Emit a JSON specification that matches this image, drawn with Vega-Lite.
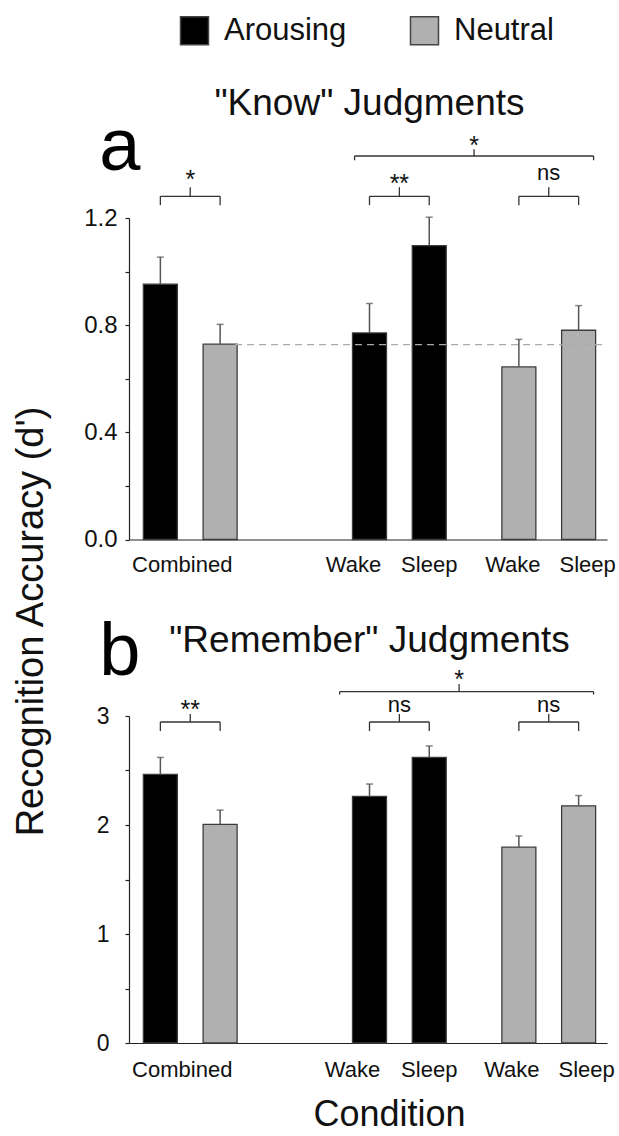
{
  "$schema": "https://vega.github.io/schema/vega-lite/v6.json",
  "padding": {"left": 12, "top": 15, "right": 0, "bottom": 0},
  "bounds": "flush",
  "spacing": 176,
  "background": "white",
  "datasets": {
    "bars": [
      {"panel": "a", "key": "Combined Arousing", "valence": "Arousing", "value": 0.953, "upper": 1.054},
      {"panel": "a", "key": "Combined Neutral", "valence": "Neutral", "value": 0.729, "upper": 0.803},
      {"panel": "a", "key": "Wake Arousing", "valence": "Arousing", "value": 0.771, "upper": 0.881},
      {"panel": "a", "key": "Sleep Arousing", "valence": "Arousing", "value": 1.097, "upper": 1.203},
      {"panel": "a", "key": "Wake Neutral", "valence": "Neutral", "value": 0.644, "upper": 0.747},
      {"panel": "a", "key": "Sleep Neutral", "valence": "Neutral", "value": 0.781, "upper": 0.873},
      {"panel": "b", "key": "Combined Arousing", "valence": "Arousing", "value": 2.464, "upper": 2.62},
      {"panel": "b", "key": "Combined Neutral", "valence": "Neutral", "value": 2.005, "upper": 2.137},
      {"panel": "b", "key": "Wake Arousing", "valence": "Arousing", "value": 2.262, "upper": 2.376},
      {"panel": "b", "key": "Sleep Arousing", "valence": "Arousing", "value": 2.62, "upper": 2.725},
      {"panel": "b", "key": "Wake Neutral", "valence": "Neutral", "value": 1.797, "upper": 1.9},
      {"panel": "b", "key": "Sleep Neutral", "valence": "Neutral", "value": 2.176, "upper": 2.27}
    ],
    "brackets": [
      {"panel": "a", "from": "Combined Arousing", "to": "Combined Neutral", "mid": "Combined", "level": 1.281, "drop": 1.248, "tip": 1.315, "label": "*", "labelY": 1.312},
      {"panel": "a", "from": "Wake Arousing", "to": "Sleep Arousing", "mid": "_16", "level": 1.281, "drop": 1.248, "tip": 1.315, "label": "**", "labelY": 1.296},
      {"panel": "a", "from": "Wake Neutral", "to": "Sleep Neutral", "mid": "_26", "level": 1.281, "drop": 1.248, "tip": 1.315, "label": "ns", "labelY": 1.341},
      {"panel": "a", "from": "_13", "to": "_29", "mid": "_21", "level": 1.4315, "drop": 1.4155, "tip": 1.4565, "label": "*", "labelY": 1.439},
      {"panel": "b", "from": "Combined Arousing", "to": "Combined Neutral", "mid": "Combined", "level": 2.945, "drop": 2.862, "tip": 3.018, "label": "**", "labelY": 2.985},
      {"panel": "b", "from": "Wake Arousing", "to": "Sleep Arousing", "mid": "_16", "level": 2.945, "drop": 2.862, "tip": 3.018, "label": "ns", "labelY": 3.04},
      {"panel": "b", "from": "Wake Neutral", "to": "Sleep Neutral", "mid": "_26", "level": 2.945, "drop": 2.862, "tip": 3.018, "label": "ns", "labelY": 3.04},
      {"panel": "b", "from": "_12", "to": "_29", "mid": "_20", "level": 3.223, "drop": 3.197, "tip": 3.294, "label": "*", "labelY": 3.26}
    ],
    "notes": [
      {"panel": "a", "kind": "letter", "key": "Combined Arousing", "y": 1.378, "text": "a"},
      {"panel": "a", "kind": "title", "key": "Wake Arousing", "y": 1.583, "text": "\"Know\" Judgments"},
      {"panel": "a", "kind": "ref", "key": "_5", "y": 0.7275, "text": ""},
      {"panel": "b", "kind": "letter", "key": "Combined Arousing", "y": 3.376, "text": "b"},
      {"panel": "b", "kind": "title", "key": "Wake Arousing", "y": 3.59, "text": "\"Remember\" Judgments"}
    ]
  },
  "resolve": {"legend": {"color": "independent"}},
  "vconcat": [
    {
      "width": 478,
      "height": 321.5,
      "layer": [
        {
          "data": {"name": "bars"},
          "transform": [{"filter": "datum.panel == 'a'"}],
          "mark": {"type": "bar", "width": 34, "stroke": "#3c3c3c", "strokeWidth": 1.3},
          "encoding": {
            "x": {
              "field": "key", "type": "nominal",
              "scale": {
                "domain": ["Combined Arousing", "_1", "Combined", "_3", "Combined Neutral", "_5", "_6", "_7", "_8", "_9", "_10", "_11", "_12", "_13", "Wake Arousing", "_15", "_16", "_17", "Sleep Arousing", "_19", "_20", "_21", "_22", "_23", "Wake Neutral", "_25", "_26", "_27", "Sleep Neutral", "_29"],
                "paddingInner": 0, "paddingOuter": 1.056, "align": 0.8
              },
              "axis": {
                "title": null, "ticks": false, "labelAngle": 0, "labelFontSize": 22, "labelBaseline": "alphabetic", "labelPadding": 32,
                "labelExpr": "datum.label == 'Combined' ? 'Combined' : indexof(datum.label, 'Wake ') == 0 ? 'Wake' : indexof(datum.label, 'Sleep ') == 0 ? 'Sleep' : ''",
                "labelOffset": {"condition": [
                  {"test": "datum.label == 'Combined'", "value": -8},
                  {"test": "datum.label == 'Wake Arousing'", "value": -16},
                  {"test": "datum.label == 'Wake Neutral'", "value": -6},
                  {"test": "datum.label == 'Sleep Neutral'", "value": 9}
                ], "value": 0}
              }
            },
            "y": {
              "field": "value", "type": "quantitative",
              "scale": {"domain": [0, 1.2], "nice": false, "zero": true},
              "axis": {
                "values": [0, 0.2, 0.4, 0.6, 0.8, 1.0, 1.2], "format": ".1f",
                "labelExpr": "round(datum.value * 10) % 4 == 0 ? datum.label : ''",
                "tickSize": 4, "labelPadding": 8, "labelFontSize": 24,
                "title": "Recognition Accuracy (d')", "titleFontSize": 38, "titleFontWeight": "normal",
                "titleAngle": 270, "titleBaseline": "alphabetic", "titleAlign": "center", "titleX": -87, "titleY": 403
              }
            },
            "color": {
              "field": "valence", "type": "nominal",
              "scale": {"domain": ["Arousing", "Neutral"], "range": ["#000000", "#b0b0b0"]},
              "legend": {
                "title": null, "orient": "none", "legendX": 50, "legendY": -203, "direction": "horizontal",
                "symbolType": "square", "symbolSize": 784, "symbolStrokeColor": "#444", "symbolStrokeWidth": 1.5,
                "symbolOpacity": 1, "labelFontSize": 31, "labelOffset": 14, "columnPadding": 60, "padding": 0
              }
            }
          }
        },
        {
          "data": {"name": "bars"},
          "transform": [{"filter": "datum.panel == 'a'"}],
          "mark": {"type": "rule", "stroke": "#555", "strokeWidth": 1.5},
          "encoding": {
            "x": {"field": "key", "type": "nominal"},
            "y": {"field": "value", "type": "quantitative"},
            "y2": {"field": "upper"}
          }
        },
        {
          "data": {"name": "bars"},
          "transform": [{"filter": "datum.panel == 'a'"}],
          "mark": {"type": "tick", "size": 7, "thickness": 1.5, "color": "#555", "orient": "horizontal"},
          "encoding": {
            "x": {"field": "key", "type": "nominal"},
            "y": {"field": "upper", "type": "quantitative"}
          }
        },
        {
          "data": {"name": "notes"},
          "transform": [{"filter": "datum.panel == 'a' && datum.kind == 'ref'"}],
          "mark": {"type": "rule", "stroke": "#aaaaaa", "strokeWidth": 1.2, "strokeDash": [7, 5]},
          "encoding": {
            "x": {"field": "key", "type": "nominal"},
            "x2": {"value": "width"},
            "y": {"field": "y", "type": "quantitative"}
          }
        },
        {
          "data": {"name": "brackets"},
          "transform": [{"filter": "datum.panel == 'a'"}],
          "mark": {"type": "rule", "stroke": "#333", "strokeWidth": 1.3},
          "encoding": {
            "x": {"field": "from", "type": "nominal"},
            "x2": {"field": "to"},
            "y": {"field": "level", "type": "quantitative"}
          }
        },
        {
          "data": {"name": "brackets"},
          "transform": [{"filter": "datum.panel == 'a'"}],
          "mark": {"type": "rule", "stroke": "#333", "strokeWidth": 1.3},
          "encoding": {
            "x": {"field": "from", "type": "nominal"},
            "y": {"field": "level", "type": "quantitative"},
            "y2": {"field": "drop"}
          }
        },
        {
          "data": {"name": "brackets"},
          "transform": [{"filter": "datum.panel == 'a'"}],
          "mark": {"type": "rule", "stroke": "#333", "strokeWidth": 1.3},
          "encoding": {
            "x": {"field": "to", "type": "nominal"},
            "y": {"field": "level", "type": "quantitative"},
            "y2": {"field": "drop"}
          }
        },
        {
          "data": {"name": "brackets"},
          "transform": [{"filter": "datum.panel == 'a'"}],
          "mark": {"type": "rule", "stroke": "#333", "strokeWidth": 1.3},
          "encoding": {
            "x": {"field": "mid", "type": "nominal"},
            "y": {"field": "level", "type": "quantitative"},
            "y2": {"field": "tip"}
          }
        },
        {
          "data": {"name": "brackets"},
          "transform": [{"filter": "datum.panel == 'a'"}],
          "mark": {"type": "text", "baseline": "alphabetic", "align": "center", "color": "#111"},
          "encoding": {
            "x": {"field": "mid", "type": "nominal"},
            "y": {"field": "labelY", "type": "quantitative"},
            "text": {"field": "label"},
            "size": {"condition": {"test": "datum.label == 'ns'", "value": 22}, "value": 25}
          }
        },
        {
          "data": {"name": "notes"},
          "transform": [{"filter": "datum.panel == 'a' && datum.kind == 'title'"}],
          "mark": {"type": "text", "baseline": "alphabetic", "align": "center", "fontSize": 37, "color": "#111"},
          "encoding": {
            "x": {"field": "key", "type": "nominal"},
            "y": {"field": "y", "type": "quantitative"},
            "text": {"field": "text"}
          }
        },
        {
          "data": {"name": "notes"},
          "transform": [{"filter": "datum.panel == 'a' && datum.kind == 'letter'"}],
          "mark": {"type": "text", "baseline": "alphabetic", "align": "left", "fontSize": 74, "dx": -61, "color": "#000"},
          "encoding": {
            "x": {"field": "key", "type": "nominal"},
            "y": {"field": "y", "type": "quantitative"},
            "text": {"field": "text"}
          }
        }
      ]
    },
    {
      "width": 478,
      "height": 327,
      "layer": [
        {
          "data": {"name": "bars"},
          "transform": [{"filter": "datum.panel == 'b'"}],
          "mark": {"type": "bar", "width": 34, "stroke": "#3c3c3c", "strokeWidth": 1.3},
          "encoding": {
            "x": {
              "field": "key", "type": "nominal",
              "scale": {
                "domain": ["Combined Arousing", "_1", "Combined", "_3", "Combined Neutral", "_5", "_6", "_7", "_8", "_9", "_10", "_11", "_12", "_13", "Wake Arousing", "_15", "_16", "_17", "Sleep Arousing", "_19", "_20", "_21", "_22", "_23", "Wake Neutral", "_25", "_26", "_27", "Sleep Neutral", "_29"],
                "paddingInner": 0, "paddingOuter": 1.056, "align": 0.8
              },
              "axis": {
                "ticks": false, "labelAngle": 0, "labelFontSize": 22, "labelBaseline": "alphabetic", "labelPadding": 33,
                "labelExpr": "datum.label == 'Combined' ? 'Combined' : indexof(datum.label, 'Wake ') == 0 ? 'Wake' : indexof(datum.label, 'Sleep ') == 0 ? 'Sleep' : ''",
                "labelOffset": {"condition": [
                  {"test": "datum.label == 'Combined'", "value": -8},
                  {"test": "datum.label == 'Wake Arousing'", "value": -17},
                  {"test": "datum.label == 'Wake Neutral'", "value": -7},
                  {"test": "datum.label == 'Sleep Neutral'", "value": 8}
                ], "value": 0},
                "title": "Condition", "titleFontSize": 36, "titleFontWeight": "normal", "titleBaseline": "alphabetic",
                "titleAlign": "center", "titleX": 260, "titleY": 82
              }
            },
            "y": {
              "field": "value", "type": "quantitative",
              "scale": {"domain": [0, 3], "nice": false, "zero": true},
              "axis": {
                "values": [0, 0.5, 1, 1.5, 2, 2.5, 3],
                "labelExpr": "datum.value % 1 == 0 ? format(datum.value, 'd') : ''",
                "tickSize": 4, "labelPadding": 16, "labelFontSize": 23, "title": null
              }
            },
            "color": {
              "field": "valence", "type": "nominal",
              "scale": {"domain": ["Arousing", "Neutral"], "range": ["#000000", "#b0b0b0"]},
              "legend": null
            }
          }
        },
        {
          "data": {"name": "bars"},
          "transform": [{"filter": "datum.panel == 'b'"}],
          "mark": {"type": "rule", "stroke": "#555", "strokeWidth": 1.5},
          "encoding": {
            "x": {"field": "key", "type": "nominal"},
            "y": {"field": "value", "type": "quantitative"},
            "y2": {"field": "upper"}
          }
        },
        {
          "data": {"name": "bars"},
          "transform": [{"filter": "datum.panel == 'b'"}],
          "mark": {"type": "tick", "size": 7, "thickness": 1.5, "color": "#555", "orient": "horizontal"},
          "encoding": {
            "x": {"field": "key", "type": "nominal"},
            "y": {"field": "upper", "type": "quantitative"}
          }
        },
        {
          "data": {"name": "brackets"},
          "transform": [{"filter": "datum.panel == 'b'"}],
          "mark": {"type": "rule", "stroke": "#333", "strokeWidth": 1.3},
          "encoding": {
            "x": {"field": "from", "type": "nominal"},
            "x2": {"field": "to"},
            "y": {"field": "level", "type": "quantitative"}
          }
        },
        {
          "data": {"name": "brackets"},
          "transform": [{"filter": "datum.panel == 'b'"}],
          "mark": {"type": "rule", "stroke": "#333", "strokeWidth": 1.3},
          "encoding": {
            "x": {"field": "from", "type": "nominal"},
            "y": {"field": "level", "type": "quantitative"},
            "y2": {"field": "drop"}
          }
        },
        {
          "data": {"name": "brackets"},
          "transform": [{"filter": "datum.panel == 'b'"}],
          "mark": {"type": "rule", "stroke": "#333", "strokeWidth": 1.3},
          "encoding": {
            "x": {"field": "to", "type": "nominal"},
            "y": {"field": "level", "type": "quantitative"},
            "y2": {"field": "drop"}
          }
        },
        {
          "data": {"name": "brackets"},
          "transform": [{"filter": "datum.panel == 'b'"}],
          "mark": {"type": "rule", "stroke": "#333", "strokeWidth": 1.3},
          "encoding": {
            "x": {"field": "mid", "type": "nominal"},
            "y": {"field": "level", "type": "quantitative"},
            "y2": {"field": "tip"}
          }
        },
        {
          "data": {"name": "brackets"},
          "transform": [{"filter": "datum.panel == 'b'"}],
          "mark": {"type": "text", "baseline": "alphabetic", "align": "center", "color": "#111"},
          "encoding": {
            "x": {"field": "mid", "type": "nominal"},
            "y": {"field": "labelY", "type": "quantitative"},
            "text": {"field": "label"},
            "size": {"condition": {"test": "datum.label == 'ns'", "value": 22}, "value": 25}
          }
        },
        {
          "data": {"name": "notes"},
          "transform": [{"filter": "datum.panel == 'b' && datum.kind == 'title'"}],
          "mark": {"type": "text", "baseline": "alphabetic", "align": "center", "fontSize": 37, "color": "#111"},
          "encoding": {
            "x": {"field": "key", "type": "nominal"},
            "y": {"field": "y", "type": "quantitative"},
            "text": {"field": "text"}
          }
        },
        {
          "data": {"name": "notes"},
          "transform": [{"filter": "datum.panel == 'b' && datum.kind == 'letter'"}],
          "mark": {"type": "text", "baseline": "alphabetic", "align": "left", "fontSize": 74, "dx": -61, "color": "#000"},
          "encoding": {
            "x": {"field": "key", "type": "nominal"},
            "y": {"field": "y", "type": "quantitative"},
            "text": {"field": "text"}
          }
        }
      ]
    }
  ],
  "config": {
    "font": "Liberation Sans",
    "view": {"stroke": null},
    "axis": {
      "grid": false, "domainColor": "#222", "domainWidth": 1.2, "tickColor": "#222", "tickWidth": 1.2,
      "labelColor": "#111", "titleColor": "#111", "labelFont": "Liberation Sans", "titleFont": "Liberation Sans",
      "labelOverlap": false, "labelBound": false, "labelFlush": false
    },
    "legend": {"labelFont": "Liberation Sans", "labelColor": "#111"},
    "text": {"font": "Liberation Sans"}
  }
}
